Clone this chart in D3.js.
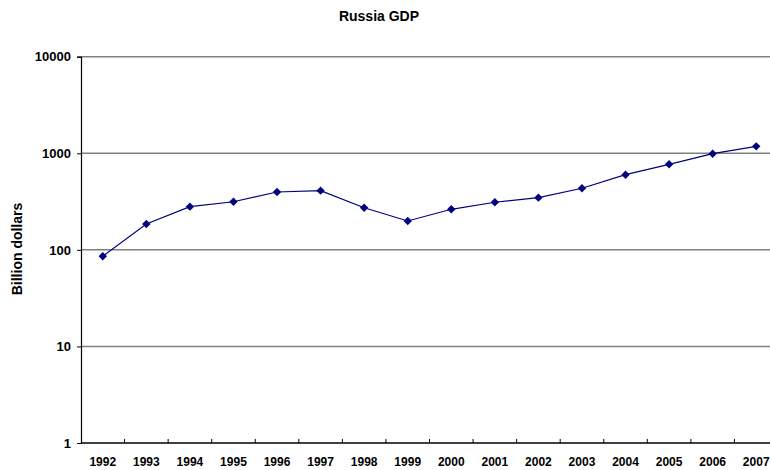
<!DOCTYPE html>
<html>
<head>
<meta charset="utf-8">
<script src="https://cdn.jsdelivr.net/npm/d3@7"></script>
<style>
  body { margin: 0; background: #fff; }
  text { font-family: "Liberation Sans", Arial, sans-serif; font-weight: bold; fill: #000; }
</style>
</head>
<body>
<div id="chart"></div>
<script>
const years = ["1992","1993","1994","1995","1996","1997","1998","1999",
               "2000","2001","2002","2003","2004","2005","2006","2007"];
const gdp = [86, 185, 280, 315, 397, 410, 273, 199,
             263, 311, 347, 434, 600, 769, 990, 1180];
const yTicks = [1, 10, 100, 1000, 10000];

const width = 770, height = 470;
const margin = {top: 56.7, right: -8, bottom: 27, left: 81};

const svg = d3.select("#chart").append("svg")
  .attr("width", width)
  .attr("height", height);

const x = d3.scaleBand()
  .domain(years)
  .range([margin.left, width - margin.right]);

const y = d3.scaleLog()
  .domain([1, 10000])
  .range([height - margin.bottom, margin.top]);

// title
svg.append("text")
  .attr("x", 379).attr("y", 21)
  .attr("text-anchor", "middle")
  .style("font-size", "14px")
  .text("Russia GDP");

// y label
svg.append("text")
  .attr("transform", "translate(22," + 249 + ") rotate(-90)")
  .attr("text-anchor", "middle")
  .style("font-size", "14px")
  .text("Billion dollars");

// gridlines
svg.append("g").selectAll("line")
  .data(yTicks.filter(d => d > 1))
  .join("line")
  .attr("x1", margin.left).attr("x2", width)
  .attr("y1", d => y(d)).attr("y2", d => y(d))
  .attr("stroke", "#808080")
  .attr("stroke-width", 1.5);

// y axis
const yAxis = svg.append("g")
  .attr("transform", "translate(" + margin.left + ",0)")
  .call(d3.axisLeft(y).tickValues(yTicks).tickFormat(d3.format("d")).tickSize(4).tickPadding(6));
yAxis.select(".domain").attr("stroke", "#000").attr("stroke-width", 1.2);
yAxis.selectAll("text").style("font-size", "13px").style("font-family", null);

// x axis
const boundaries = years.slice(1).map(d => x(d));
const xAxis = svg.append("g")
  .attr("transform", "translate(0," + (height - margin.bottom) + ")");
xAxis.append("line")
  .attr("x1", margin.left).attr("x2", width)
  .attr("stroke", "#000").attr("stroke-width", 1.5);
xAxis.selectAll(".tk")
  .data(boundaries)
  .join("line").attr("class", "tk")
  .attr("x1", d => d).attr("x2", d => d)
  .attr("y1", 0).attr("y2", -4)
  .attr("stroke", "#000");
xAxis.selectAll(".lbl")
  .data(years)
  .join("text").attr("class", "lbl")
  .attr("x", d => x(d) + x.bandwidth() / 2)
  .attr("y", 23)
  .attr("text-anchor", "middle")
  .style("font-size", "12px")
  .text(d => d);

// series
const line = d3.line()
  .x((d, i) => x(years[i]) + x.bandwidth() / 2)
  .y(d => y(d));

svg.append("path")
  .datum(gdp)
  .attr("d", line)
  .attr("fill", "none")
  .attr("stroke", "#000080")
  .attr("stroke-width", 1.2);

svg.append("g").selectAll("path")
  .data(gdp)
  .join("path")
  .attr("d", d3.symbol(d3.symbolDiamond2, 45))
  .attr("transform", (d, i) => "translate(" + (x(years[i]) + x.bandwidth() / 2) + "," + y(d) + ")")
  .attr("fill", "#000080");
</script>
</body>
</html>
